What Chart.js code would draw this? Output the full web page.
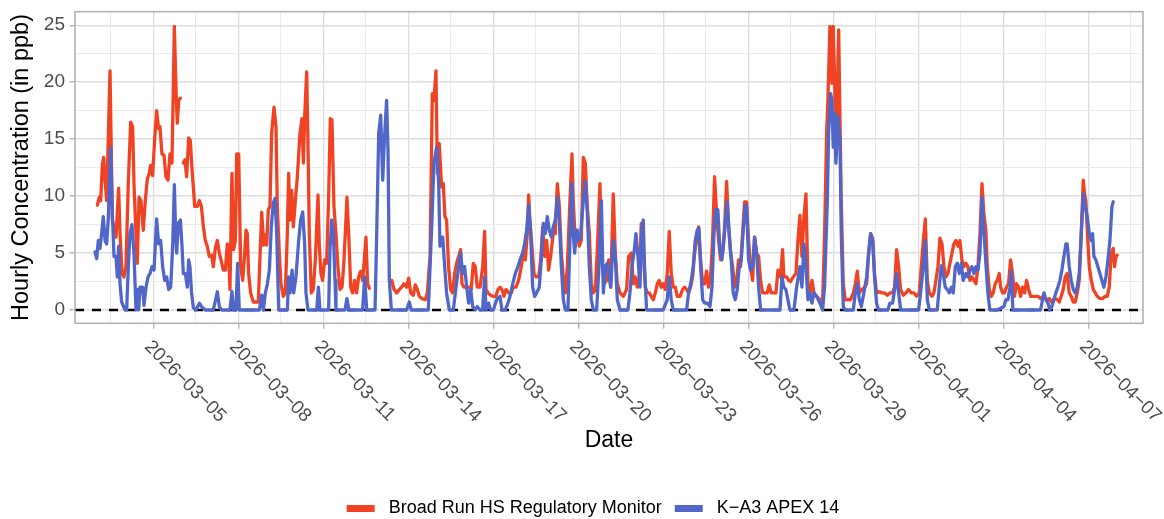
<!DOCTYPE html>
<html lang="en">
<head>
<meta charset="UTF-8">
<title>Hourly Concentration</title>
<script src="https://cdn.jsdelivr.net/npm/chart.js@4"></script>
<style>
  html, body { margin: 0; padding: 0; background: #fff; }
  #wrap { width: 1164px; height: 519px; }
</style>
</head>
<body>
<div id="wrap"><canvas id="chart"></canvas></div>
<script>
// hours since 2026-03-03 00:00 and hourly concentration (ppb)
const redHours = [
  0.6, 2.3, 3.4, 4.8, 5.9, 7.1, 8.5, 11.3, 13.3, 14.7,
  16.4, 18.6, 19.8, 21.5, 23.1, 24.8, 26.8, 28.8, 30.5, 31.6,
  33.3, 34.4, 35.9, 37.5, 39.5, 41.2, 42.9, 44.6, 45.7, 47.4,
  49.1, 50.8, 52.5, 53.6, 55.3, 57.0, 58.7, 60.4, 62.1, 63.8,
  65.8, 67.5, 68.3, 69.5, 70.9,
  72.0,
  73.4, 74.8, 76.2, 77.9, 79.3, 80.8, 81.9, 83.0, 85.3, 87.0,
  88.7, 90.4, 92.0, 93.7, 95.4, 97.4, 98.8, 100.5, 102.2, 103.9,
  105.3, 107.3, 109.0, 110.7, 111.8, 112.9, 114.6, 116.0, 117.5, 118.6,
  120.3, 122.0, 123.7, 125.4, 126.5, 127.6, 128.7, 130.4, 132.7, 136.9,
  139.8, 141.5, 142.9, 144.0, 145.4, 146.8, 148.2, 150.2, 151.9, 153.0,
  154.7, 156.1, 158.1, 159.8, 161.5, 162.6, 163.8, 165.2, 166.6, 168.3,
  170.0, 172.2, 173.9, 175.1, 176.2, 177.9, 179.0, 180.1, 181.8, 183.5,
  185.2, 187.5, 188.6, 190.0, 191.4, 193.1, 194.8, 196.5, 197.9, 199.3,
  201.0, 202.7, 204.4, 206.1, 207.8, 209.2, 210.6, 212.0, 213.5, 215.2,
  216.8, 218.5, 220.2, 221.9, 223.6, 225.3, 226.7, 228.1, 229.5, 231.0,
  240.0,
  249.9, 251.9, 254.1, 256.4, 258.3, 260.3, 262.6, 264.3, 266.0, 268.2,
  269.9, 271.6, 273.3, 275.6, 278.4, 280.1, 282.4, 284.3, 285.7, 287.4,
  288.6, 290.2, 292.2, 293.6, 295.0, 296.4, 298.1, 299.8, 301.5, 303.2,
  304.9, 306.6, 308.3, 309.4, 311.1, 313.4, 315.6, 317.3, 319.0, 320.7,
  322.4, 324.7, 327.0, 328.6, 329.8, 331.5, 333.7, 336.0, 338.2, 339.9,
  341.6, 343.3, 345.0, 346.7, 349.0, 351.2, 352.9, 355.2, 357.4, 359.7,
  361.4, 363.1, 364.8, 365.9, 367.0, 368.7, 370.4, 372.1, 374.4, 376.1,
  377.8, 379.5, 381.2, 382.8, 384.5, 386.8, 388.5, 390.2, 391.9, 393.6,
  395.3, 397.0, 398.7, 400.9, 402.6, 403.7, 405.4, 407.1, 408.8, 410.5,
  412.2, 413.9, 415.6, 417.3, 419.0, 420.7, 422.4, 424.1, 426.3, 428.0,
  429.7, 432.0, 433.7, 435.4, 437.6, 439.3, 441.0, 443.3, 446.1, 448.9,
  450.6, 452.9, 454.6, 456.2, 457.9, 459.6, 461.3, 463.0, 464.7, 466.4,
  468.1, 469.8, 471.5, 473.2, 474.9, 476.5, 478.2, 479.9, 481.6, 483.3,
  485.0, 486.7, 488.4, 490.1, 491.8, 494.1, 496.3, 498.0, 499.7, 501.4,
  503.1, 504.8, 506.5, 508.2, 509.9, 511.6, 513.3, 515.0, 516.6, 518.3,
  520.0, 521.7, 523.4, 525.1, 526.8, 528.5, 530.2, 531.9, 533.6, 535.3,
  537.0, 538.7, 540.4, 542.1, 543.7, 545.4, 547.1, 548.8, 550.5, 552.2,
  553.9, 555.6, 557.3, 559.0, 560.7, 562.4, 564.1, 566.3, 568.0, 569.7,
  571.4, 573.7, 575.4, 577.1, 579.3, 581.0, 582.1, 584.4, 586.1, 587.8,
  590.0, 592.3, 594.0, 595.7, 597.4, 599.1, 600.8, 602.5, 604.2, 605.9,
  607.6, 609.8, 612.6, 614.9, 616.6, 618.3, 619.4, 621.1, 622.8, 623.9,
  625.1, 626.2, 627.3, 628.5, 629.6, 630.7, 632.4, 634.1, 636.4, 638.6,
  640.9, 642.6, 644.3, 646.0, 648.2, 650.5, 652.2, 653.9, 655.6, 657.3,
  658.9, 660.6, 662.9, 665.2, 667.4, 669.7, 671.9, 674.2, 675.9, 677.6,
  679.3, 681.0, 683.2, 685.5, 687.7, 690.0, 692.3, 694.5, 696.8, 698.5,
  700.2, 701.9, 703.6, 705.3, 707.5, 709.2, 710.9, 712.6, 714.3, 716.0,
  717.7, 719.4, 721.1, 722.8, 724.5, 726.1, 727.8, 729.5, 731.2, 732.9,
  734.6, 736.3, 738.0, 739.7, 741.4, 743.1, 744.8, 746.5, 748.2, 749.9,
  751.5, 753.2, 754.4, 756.1, 757.8, 759.4, 761.1, 762.8, 764.5, 765.7,
  767.4, 769.0, 770.7, 772.4, 774.1, 775.8, 777.5, 779.2, 780.9, 782.6,
  784.3, 786.0, 787.7, 789.4, 791.1, 795.0, 797.3, 799.5, 801.8, 803.5,
  805.2, 806.9, 808.6, 810.3, 812.0, 813.7, 815.4, 817.0, 818.7, 820.4,
  822.1, 823.8, 825.5, 827.2, 828.9, 830.6, 832.3, 834.0, 835.7, 836.8,
  837.9, 839.1, 840.8, 842.5, 844.2, 845.9, 847.5, 849.8, 852.1, 854.3,
  856.0, 857.7, 859.4, 861.1, 862.2, 863.4, 864.5
];
// null = monitor offline
const redPpb = [
  9.2, 9.9, 9.6, 12.7, 13.4, 11.4, 9.6, 21.0, 7.9, 7.3,
  6.4, 10.7, 6.7, 3.2, 2.9, 3.8, 11.1, 16.5, 16.1, 11.1,
  6.7, 4.1, 9.9, 9.6, 7.0, 9.6, 11.5, 12.0, 12.7, 11.8,
  14.9, 17.5, 15.9, 16.1, 13.7, 13.6, 11.7, 11.4, 13.7, 12.9,
  24.9, 18.4, 16.4, 18.4, 18.6,
  null,
  12.9, 13.2, 11.7, 15.1, 14.9, 12.3, 10.8, 9.1, 9.1, 9.6,
  9.1, 7.3, 6.1, 5.6, 4.7, 4.8, 3.8, 5.4, 6.1, 5.0,
  4.4, 3.5, 3.5, 5.8, 5.0, 1.8, 12.0, 5.3, 6.1, 13.7,
  13.7, 3.8, 2.6, 5.0, 7.0, 6.7, 3.2, 1.5, 0.7, 0.7,
  8.6, 5.7, 6.6, 5.7, 8.8, 9.1, 15.5, 17.8, 16.1, 9.1,
  5.0, 2.3, 1.2, 1.5, 6.7, 12.0, 7.9, 10.5, 7.3, 9.6,
  11.7, 15.5, 16.8, 12.9, 17.0, 20.9, 14.6, 6.7, 1.5, 1.8,
  4.4, 10.1, 5.6, 3.2, 2.6, 4.4, 4.1, 9.9, 16.8, 16.7,
  9.1, 6.7, 3.8, 1.8, 2.0, 3.8, 6.7, 9.9, 6.7, 2.0,
  1.5, 2.6, 1.5, 2.9, 3.4, 2.6, 4.4, 6.4, 2.3, 1.9,
  null,
  2.6, 1.8, 1.5, 1.8, 2.0, 2.3, 2.0, 2.8, 1.5, 1.3,
  2.2, 1.8, 1.2, 1.0, 0.9, 1.5, 4.7, 19.0, 18.4, 21.0,
  12.0, 14.6, 10.8, 11.1, 8.2, 7.9, 3.8, 1.8, 1.5, 3.2,
  4.1, 4.7, 5.3, 2.3, 2.0, 2.0, 2.0, 1.8, 4.1, 3.8,
  2.0, 2.0, 3.8, 6.9, 1.8, 1.5, 1.3, 1.2, 1.2, 1.8,
  2.0, 1.8, 1.2, 1.8, 1.5, 1.5, 2.0, 2.0, 2.6, 3.8,
  5.0, 4.4, 6.7, 10.1, 7.9, 5.6, 3.2, 2.9, 2.9, 4.4,
  7.3, 4.7, 6.1, 3.5, 4.7, 6.7, 6.7, 11.1, 9.1, 5.0,
  2.9, 1.5, 3.8, 9.6, 13.7, 9.6, 6.1, 7.0, 5.6, 6.1,
  13.4, 12.9, 9.1, 6.7, 2.3, 1.5, 1.8, 5.3, 11.1, 4.4,
  2.3, 2.6, 4.4, 2.0, 10.2, 5.0, 2.3, 1.5, 1.2, 1.8,
  4.7, 5.0, 2.3, 2.9, 2.0, 2.9, 7.6, 5.3, 2.0, 1.5,
  1.5, 1.2, 0.9, 1.5, 2.3, 2.6, 2.0, 2.3, 1.8, 3.2,
  6.9, 3.2, 2.0, 2.0, 1.2, 1.2, 1.8, 2.0, 1.8, 1.5,
  2.0, 2.9, 5.0, 6.1, 7.3, 4.4, 2.3, 2.3, 3.4, 2.0,
  2.9, 6.1, 11.7, 8.5, 6.1, 4.4, 5.0, 7.3, 11.3, 7.3,
  5.0, 3.8, 2.0, 2.6, 4.4, 3.8, 6.7, 9.5, 9.5, 6.1,
  3.8, 2.6, 6.4, 5.0, 4.7, 2.6, 1.5, 1.5, 1.5, 2.2,
  1.5, 1.5, 1.5, 3.5, 2.9, 5.3, 2.9, 2.9, 2.6, 2.5,
  2.9, 3.2, 6.1, 8.3, 4.7, 8.2, 10.2, 2.3, 1.5, 2.6,
  1.5, 1.2, 0.9, 0.6, 6.7, 15.5, 18.4, 24.9, 19.9, 24.9,
  20.2, 13.5, 18.4, 24.6, 17.0, 9.6, 2.3, 0.9, 0.9, 0.9,
  1.5, 2.3, 3.4, 1.5, 1.8, 2.0, 2.3, 5.0, 6.7, 6.3,
  3.2, 1.5, 1.6, 1.5, 1.5, 1.3, 1.5, 1.5, 2.0, 5.3,
  3.8, 1.8, 1.3, 1.5, 1.8, 1.5, 1.5, 1.2, 1.5, 3.8,
  6.1, 8.0, 2.6, 1.5, 1.2, 1.5, 2.6, 3.8, 6.3, 5.8,
  3.8, 2.9, 3.2, 4.1, 5.0, 5.8, 6.1, 5.6, 6.1, 4.4,
  3.8, 4.1, 3.8, 2.6, 2.9, 2.6, 2.3, 3.8, 6.7, 11.1,
  8.5, 7.0, 3.8, 1.8, 1.2, 1.5, 2.3, 2.6, 3.2, 2.0,
  1.5, 1.5, 2.0, 2.3, 4.4, 3.2, 1.2, 2.3, 2.0, 1.2,
  2.0, 1.5, 2.6, 1.8, 1.2, 1.2, 1.2, 1.0, 1.2, 1.0,
  0.9, 1.0, 0.7, 0.9, 1.0, 0.9, 0.7, 1.2, 1.8, 2.9,
  3.2, 1.5, 1.2, 0.7, 0.7, 1.5, 2.6, 6.7, 11.4, 10.2,
  9.6, 7.0, 3.8, 2.6, 1.8, 1.5, 1.2, 1.0, 1.0, 1.2,
  1.2, 2.0, 5.0, 5.4, 3.8, 4.7, 4.8
];

const blueHours = [
  -1.4, 0.0, 1.4, 2.8, 4.2, 5.6, 7.1, 8.5, 9.9, 11.9,
  13.3, 14.7, 16.4, 17.5, 18.6, 19.8, 21.2, 24.0, 25.4, 26.8,
  28.2, 29.9, 31.6, 33.3, 34.4, 35.6, 36.7, 38.9, 40.1, 41.8,
  43.5, 45.2, 46.9, 48.6, 50.8, 52.5, 54.2, 55.9, 57.6, 59.3,
  61.0, 62.7, 64.4, 65.8, 66.9, 67.8, 69.2, 70.9, 72.3, 73.4,
  75.1, 76.8, 77.9, 79.0, 80.4, 81.9, 84.1, 87.0, 88.9, 91.8,
  98.8, 100.8, 102.2, 103.9, 105.6, 112.9, 114.6, 116.0, 118.0, 119.4,
  120.8, 137.8, 139.8, 141.2, 142.9, 144.6, 146.3, 147.9, 149.6, 151.1,
  152.5, 154.2, 161.5, 162.6, 163.8, 165.5, 166.9, 168.8, 171.1, 172.8,
  174.5, 176.2, 177.3, 179.0, 186.4, 187.8, 189.2, 196.5, 197.6, 199.1,
  200.5, 201.9, 202.7, 210.3, 212.0, 213.7, 225.3, 227.0, 228.7, 235.8,
  237.2, 238.9, 240.6, 242.3, 243.7, 245.6, 246.8, 247.9, 249.6, 262.6,
  264.8, 266.5, 280.9, 283.8, 285.7, 288.0, 289.7, 290.8, 293.1, 294.8,
  296.4, 298.7, 302.1, 304.4, 306.6, 308.3, 310.0, 311.7, 313.4, 315.1,
  316.8, 318.5, 320.7, 322.4, 324.7, 326.9, 328.6, 329.8, 332.0, 333.7,
  336.0, 338.8, 341.6, 343.3, 346.1, 348.4, 350.1, 352.4, 354.6, 356.9,
  358.6, 360.8, 362.5, 364.2, 365.9, 367.6, 369.3, 371.0, 372.7, 374.9,
  376.6, 378.3, 380.0, 381.7, 383.4, 385.1, 386.8, 388.5, 390.2, 391.9,
  393.6, 395.3, 397.0, 399.2, 400.9, 402.6, 403.7, 404.9, 406.6, 408.3,
  410.0, 412.2, 413.9, 415.6, 417.3, 419.0, 420.7, 423.5, 425.8, 427.5,
  429.2, 430.8, 432.5, 434.2, 435.4, 437.6, 439.3, 441.0, 443.3, 450.0,
  451.7, 453.4, 455.1, 456.8, 458.5, 460.2, 461.9, 463.0, 464.1, 465.8,
  479.9, 483.3, 485.0, 486.7, 488.4, 499.7, 501.4, 503.7, 505.3, 507.0,
  508.7, 510.1, 511.6, 513.3, 515.0, 517.2, 519.5, 521.2, 522.9, 524.5,
  526.2, 527.9, 529.6, 531.3, 533.0, 534.1, 535.8, 537.5, 539.2, 540.9,
  542.6, 544.3, 546.0, 547.7, 549.4, 550.5, 552.2, 553.9, 555.6, 557.3,
  559.0, 560.7, 562.4, 578.8, 580.5, 582.1, 583.8, 585.5, 587.2, 590.6,
  592.9, 595.7, 597.4, 599.1, 600.8, 602.5, 604.2, 605.9, 607.6, 609.8,
  612.6, 614.9, 616.6, 618.9, 620.0, 621.7, 622.8, 623.9, 625.1, 626.2,
  627.9, 629.6, 630.7, 632.4, 634.1, 640.9, 642.6, 644.3, 646.0, 647.7,
  649.9, 652.2, 653.9, 655.6, 657.3, 658.9, 660.6, 662.3, 670.2, 671.9,
  674.2, 675.9, 677.6, 679.3, 681.0, 696.2, 697.9, 700.2, 701.9, 703.6,
  705.3, 712.0, 713.7, 715.4, 717.1, 718.8, 720.5, 722.2, 723.9, 725.6,
  727.3, 729.0, 730.7, 732.4, 734.0, 736.3, 738.0, 739.7, 741.4, 743.1,
  744.8, 746.5, 748.2, 749.9, 751.5, 753.2, 754.9, 756.6, 762.8, 768.5,
  770.2, 771.9, 773.6, 774.7, 776.1, 799.5, 801.2, 802.4, 804.1, 805.8,
  807.4, 809.1, 810.8, 812.5, 814.2, 815.9, 817.6, 819.3, 821.0, 822.1,
  823.8, 825.5, 827.2, 828.9, 830.6, 832.3, 834.0, 835.7, 837.4, 839.1,
  840.8, 842.5, 843.6, 844.7, 846.4, 848.1, 849.8, 851.5, 853.2, 854.9,
  856.6, 858.3, 860.0, 861.1
];
const bluePpb = [
  5.1, 4.5, 6.1, 5.4, 6.7, 8.2, 6.1, 5.8, 8.2, 14.2,
  8.5, 4.7, 4.7, 2.9, 5.6, 2.3, 0.7, 0, 0, 3.8,
  6.7, 7.5, 5.0, 0, 1.8, 0, 2.0, 2.0, 0.4, 2.0,
  2.9, 3.2, 3.8, 3.5, 8.0, 5.8, 6.1, 3.8, 2.6, 2.9,
  1.8, 2.0, 5.6, 11.0, 6.7, 5.0, 7.6, 7.9, 5.6, 3.2,
  3.2, 2.0, 4.4, 3.8, 1.5, 0.2, 0, 0.6, 0.3, 0,
  0, 0.9, 1.6, 0.3, 0, 0, 1.6, 0, 0, 4.1,
  0, 0, 1.3, 0, 1.5, 2.3, 3.5, 7.3, 9.4, 9.8,
  6.7, 0, 0, 2.9, 1.5, 3.5, 1.5, 2.9, 6.1, 7.9,
  8.6, 5.8, 1.5, 0, 0, 2.0, 0, 0, 5.3, 7.9,
  6.7, 2.6, 0, 0, 1.0, 0, 0, 2.9, 0, 0,
  6.7, 15.5, 17.1, 11.4, 14.9, 18.4, 14.0, 2.6, 0, 0,
  0.7, 0, 0, 7.3, 12.9, 14.3, 11.1, 5.6, 6.4, 3.8,
  1.5, 0, 0, 2.0, 3.8, 5.0, 3.2, 3.8, 2.0, 0.6,
  1.8, 0.3, 0, 0.3, 0, 0, 2.9, 0, 0.6, 0,
  0, 0.9, 1.2, 0, 0, 0.6, 1.2, 2.3, 3.2, 3.8,
  4.4, 5.0, 5.8, 7.0, 9.2, 6.7, 2.0, 1.2, 1.5, 2.0,
  4.4, 7.6, 6.7, 8.2, 7.0, 6.4, 7.3, 7.9, 9.9, 7.9,
  3.8, 0.9, 0, 0, 6.1, 11.1, 6.7, 5.0, 7.0, 6.1,
  6.7, 9.6, 11.3, 8.5, 3.8, 0.9, 0, 0, 4.4, 9.6,
  1.5, 3.8, 4.1, 2.9, 2.0, 6.1, 4.7, 0.9, 0, 0,
  1.5, 3.8, 5.0, 6.7, 4.7, 2.0, 7.3, 7.9, 3.8, 0,
  0, 0.9, 2.9, 0.9, 0, 0, 1.5, 2.6, 3.8, 6.1,
  7.0, 7.2, 3.8, 0.9, 0.6, 0.6, 0.3, 2.0, 6.7, 8.8,
  8.8, 5.3, 4.4, 6.1, 8.2, 9.5, 6.7, 4.4, 1.5, 0.9,
  1.8, 3.8, 4.4, 7.0, 9.2, 9.1, 4.4, 3.5, 3.8, 6.4,
  5.0, 2.0, 0, 0, 2.9, 2.0, 1.8, 0.9, 0, 0,
  2.0, 3.8, 2.0, 5.8, 3.8, 0.9, 1.5, 0.6, 1.5, 1.2,
  0.6, 0, 2.0, 9.6, 15.5, 19.0, 18.4, 14.3, 17.3, 12.9,
  17.0, 14.9, 6.7, 0.3, 0, 0, 1.5, 2.3, 0.9, 0.3,
  1.5, 2.9, 5.0, 6.7, 6.1, 2.9, 0.6, 0, 0, 0.6,
  0.6, 1.8, 3.2, 1.5, 0, 0, 1.5, 3.8, 6.1, 0.9,
  0, 0, 2.0, 3.9, 3.2, 2.0, 1.8, 1.5, 2.0, 1.5,
  3.8, 4.1, 3.2, 4.1, 2.6, 3.2, 2.9, 3.5, 3.8, 3.2,
  3.8, 3.5, 5.0, 9.9, 7.0, 4.1, 1.5, 0, 0, 0.3,
  0.9, 0.9, 2.0, 3.4, 0, 0, 0.9, 1.5, 0.9, 0.6,
  0, 0.3, 0.9, 1.5, 2.0, 2.6, 3.5, 4.7, 5.8, 5.8,
  3.8, 2.6, 1.8, 1.5, 2.0, 3.2, 6.7, 10.2, 9.1, 8.2,
  6.7, 6.1, 6.7, 4.7, 4.4, 3.8, 3.2, 2.6, 2.0, 2.9,
  4.4, 6.1, 9.1, 9.5
];

// axis breaks (hours since 2026-03-03 00:00)
const xTickHours = [48, 120, 192, 264, 336, 408, 480, 552, 624, 696, 768, 840];
const xTickLabels = [
  '2026\u221203\u221205', '2026\u221203\u221208', '2026\u221203\u221211', '2026\u221203\u221214',
  '2026\u221203\u221217', '2026\u221203\u221220', '2026\u221203\u221223', '2026\u221203\u221226',
  '2026\u221203\u221229', '2026\u221204\u221201', '2026\u221204\u221204', '2026\u221204\u221207'
];
const xMinorHours = [12, 84, 156, 228, 300, 372, 444, 516, 588, 660, 732, 804, 876];
const yTickValues = [0, 5, 10, 15, 20, 25];
const yMinorValues = [2.5, 7.5, 12.5, 17.5, 22.5];

const seriesNames = ['Broad Run HS Regulatory Monitor', 'K\u2212A3 APEX 14'];

const FONT = "'Liberation Sans', Arial, Helvetica, sans-serif";
const RED = '#EF4324';
const BLUE = '#5067C9';
const GRID_MAJOR = '#DEDEDE';
const GRID_MINOR = '#E9E9E9';
const FRAME = '#B3B3B3';
const TICK_TEXT = '#4D4D4D';

Chart.defaults.font.family = FONT;

function toPoints(hours, values) {
  return hours.map((h, i) => ({ x: h, y: values[i] }));
}

const isXMajor = v => xTickHours.includes(v);
const isYMajor = v => yTickValues.includes(v);

// zero reference line, panel frame, rotated date labels and legend
const panelDecor = {
  id: 'panelDecor',
  beforeDatasetsDraw(chart) {
    const { ctx, chartArea: a, scales: { y } } = chart;
    const y0 = y.getPixelForValue(0);
    ctx.save();
    ctx.strokeStyle = '#000';
    ctx.lineWidth = 2.4;
    ctx.setLineDash([9, 8]);
    ctx.beginPath();
    ctx.moveTo(a.left, y0);
    ctx.lineTo(a.right, y0);
    ctx.stroke();
    ctx.restore();
  },
  afterDatasetsDraw(chart) {
    const { ctx, chartArea: a } = chart;
    ctx.save();
    ctx.strokeStyle = FRAME;
    ctx.lineWidth = 1.6;
    ctx.strokeRect(a.left, a.top, a.right - a.left, a.bottom - a.top);
    ctx.restore();
  },
  afterDraw(chart) {
    const { ctx, chartArea: a, scales: { x } } = chart;
    ctx.save();
    ctx.font = '19px ' + FONT;
    ctx.fillStyle = TICK_TEXT;
    ctx.textAlign = 'left';
    ctx.textBaseline = 'middle';
    xTickHours.forEach((h, i) => {
      const px = x.getPixelForValue(h);
      ctx.save();
      ctx.translate(px - 6, a.bottom + 20.5);
      ctx.rotate(Math.PI / 4);
      ctx.fillText(xTickLabels[i], 0, 0);
      ctx.restore();
    });

    // legend
    const keyW = 28, keyGap = 14, itemGap = 13, cx = 593, cy = 508.5;
    ctx.font = '18px ' + FONT;
    const items = chart.data.datasets.map(ds => ({
      text: ds.label, color: ds.borderColor, w: ctx.measureText(ds.label).width
    }));
    const total = items.reduce((s, it) => s + keyW + keyGap + it.w, 0) + itemGap * (items.length - 1);
    let lx = cx - total / 2;
    ctx.fillStyle = '#000';
    items.forEach(it => {
      ctx.strokeStyle = it.color;
      ctx.lineWidth = 7;
      ctx.lineCap = 'butt';
      ctx.beginPath();
      ctx.moveTo(lx, cy);
      ctx.lineTo(lx + keyW, cy);
      ctx.stroke();
      ctx.fillText(it.text, lx + keyW + keyGap, cy);
      lx += keyW + keyGap + it.w + itemGap;
    });
    ctx.restore();
  }
};

const chart = new Chart(document.getElementById('chart'), {
  type: 'line',
  data: {
    datasets: [
      { label: seriesNames[0], data: toPoints(redHours, redPpb), borderColor: RED, order: 2 },
      { label: seriesNames[1], data: toPoints(blueHours, bluePpb), borderColor: BLUE, order: 1 }
    ]
  },
  options: {
    responsive: true,
    maintainAspectRatio: false,
    animation: false,
    spanGaps: false,
    elements: {
      point: { radius: 0 },
      line: { borderWidth: 3.3, tension: 0, borderJoinStyle: 'round', borderCapStyle: 'round' }
    },
    layout: { padding: { top: 11.7, right: 21, bottom: 0, left: 0 } },
    plugins: { legend: { display: false }, tooltip: { enabled: false } },
    scales: {
      x: {
        type: 'linear',
        min: -18.35,
        max: 886.3,
        afterBuildTicks: s => {
          s.ticks = [...xMinorHours, ...xTickHours].sort((p, q) => p - q).map(v => ({ value: v }));
        },
        afterFit: s => { s.height = 195.7; s.paddingLeft = 0; s.paddingRight = 0; },
        ticks: { display: false },
        grid: {
          color: c => (c.tick && isXMajor(c.tick.value)) ? GRID_MAJOR : GRID_MINOR,
          lineWidth: c => (c.tick && isXMajor(c.tick.value)) ? 1.4 : 0.9,
          drawTicks: true,
          tickLength: 5.5,
          tickWidth: 1.4,
          tickColor: c => (c.tick && isXMajor(c.tick.value)) ? FRAME : 'rgba(0,0,0,0)'
        },
        border: { display: false },
        title: {
          display: true, text: 'Date', color: '#000',
          font: { size: 23 }, padding: { top: 0, bottom: 65 }
        }
      },
      y: {
        type: 'linear',
        min: -1.17,
        max: 26.19,
        afterBuildTicks: s => {
          s.ticks = [...yMinorValues, ...yTickValues].sort((p, q) => p - q).map(v => ({ value: v }));
        },
        afterFit: s => { s.width = 75; s.paddingTop = 0; s.paddingBottom = 0; },
        ticks: {
          autoSkip: false,
          color: TICK_TEXT,
          font: { size: 19 },
          padding: 4.5,
          callback: v => isYMajor(v) ? String(v) : ''
        },
        grid: {
          color: c => (c.tick && isYMajor(c.tick.value)) ? GRID_MAJOR : GRID_MINOR,
          lineWidth: c => (c.tick && isYMajor(c.tick.value)) ? 1.4 : 0.9,
          drawTicks: true,
          tickLength: 5.5,
          tickWidth: 1.4,
          tickColor: c => (c.tick && isYMajor(c.tick.value)) ? FRAME : 'rgba(0,0,0,0)'
        },
        border: { display: false },
        title: {
          display: true, text: 'Hourly Concentration (in ppb)', color: '#000',
          font: { size: 23.5 }, padding: { top: 7, bottom: 0 }
        }
      }
    }
  },
  plugins: [panelDecor]
});
</script>
</body>
</html>
